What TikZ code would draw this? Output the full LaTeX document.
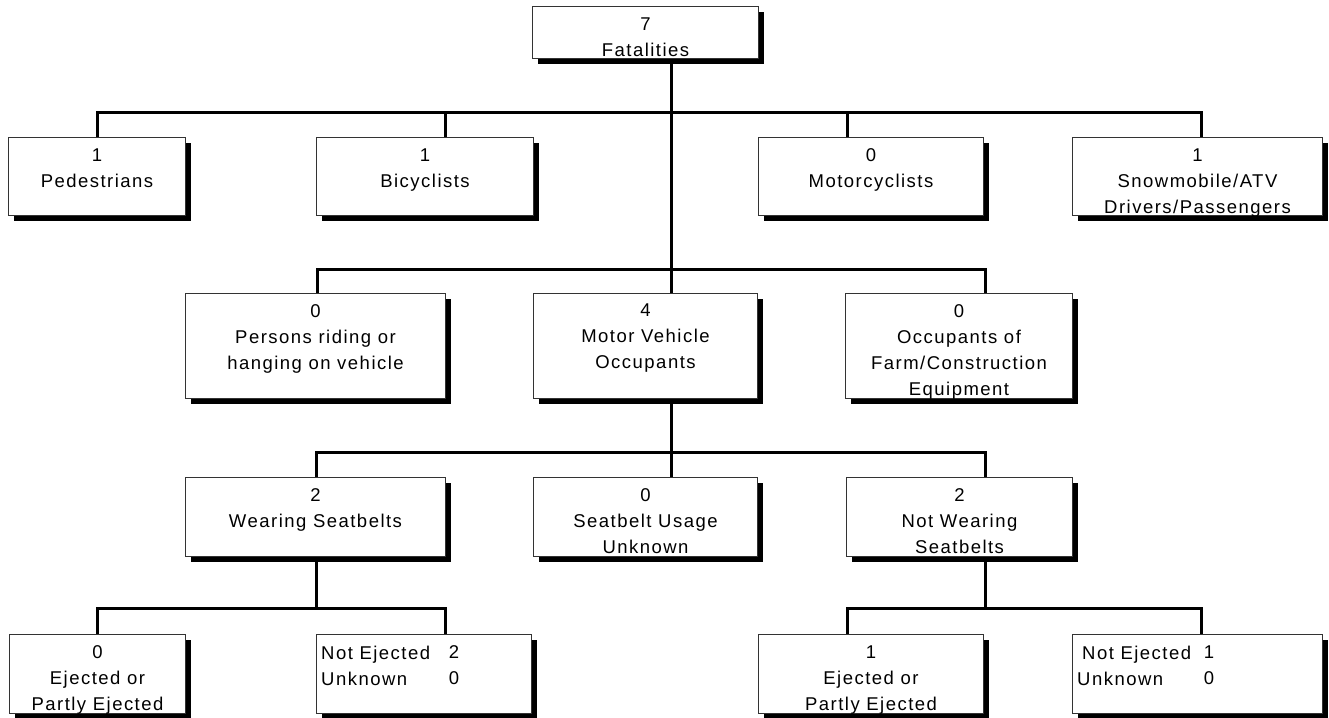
\documentclass[tikz,border=0pt]{standalone}
\usepackage{fontspec}
\setmainfont{Liberation Sans}[LetterSpace=8]
\usetikzlibrary{shadows}
\begin{document}
\begin{tikzpicture}[x=1pt,y=-1pt,
  box/.style={draw=black!80, line width=1pt, fill=white, anchor=north west, inner sep=0pt,
    drop shadow={shadow xshift=5.5pt, shadow yshift=-5.5pt, fill=black, opacity=1}},
  txt/.style={anchor=north, align=center, inner sep=0pt, font=\fontsize{18.5}{26}\selectfont},
  txtl/.style={anchor=north west, align=left, inner sep=0pt, font=\fontsize{18.5}{26}\selectfont},
  conn/.style={line width=3pt, line join=miter}]
\useasboundingbox (0,0) rectangle (1329,717);
% bar levels
\coordinate (bar1) at (0,112);
\coordinate (bar2) at (0,269);
\coordinate (bar3) at (0,452);
\coordinate (bar4) at (0,608);
% connector points
\coordinate (fatout) at (671,58);
\coordinate (pedin) at (97,137);
\coordinate (bicin) at (445,137);
\coordinate (motoin) at (847,137);
\coordinate (snowin) at (1201,137);
\coordinate (ridein) at (317,293);
\coordinate (mvoin) at (671,293);
\coordinate (mvoout) at (671,398);
\coordinate (farmin) at (985,293);
\coordinate (wearin) at (316,477);
\coordinate (wearout) at (316,556);
\coordinate (unkin) at (671,477);
\coordinate (notwin) at (985,477);
\coordinate (notwout) at (985,556);
\coordinate (ej1in) at (97,634);
\coordinate (ne1in) at (445,634);
\coordinate (ej2in) at (847,634);
\coordinate (ne2in) at (1201,634);
% connectors
\draw[conn] (fatout) -- (mvoin);
\draw[conn] (pedin) -- (pedin |- bar1) -- (snowin |- bar1) -- (snowin);
\draw[conn] (bicin) -- (bicin |- bar1);
\draw[conn] (motoin) -- (motoin |- bar1);
\draw[conn] (ridein) -- (ridein |- bar2) -- (farmin |- bar2) -- (farmin);
\draw[conn] (mvoout) -- (unkin);
\draw[conn] (wearin) -- (wearin |- bar3) -- (notwin |- bar3) -- (notwin);
\draw[conn] (ej1in) -- (ej1in |- bar4) -- (ne1in |- bar4) -- (ne1in);
\draw[conn] (wearout) -- (wearout |- bar4);
\draw[conn] (ej2in) -- (ej2in |- bar4) -- (ne2in |- bar4) -- (ne2in);
\draw[conn] (notwout) -- (notwout |- bar4);
% boxes
\node[box, minimum width=226pt, minimum height=52pt] (fat) at (532,6) {};
\node[box, minimum width=177pt, minimum height=78pt] (ped) at (8,137) {};
\node[box, minimum width=217pt, minimum height=78pt] (bic) at (316,137) {};
\node[box, minimum width=225pt, minimum height=78pt] (moto) at (758,137) {};
\node[box, minimum width=250pt, minimum height=78pt] (snow) at (1072,137) {};
\node[box, minimum width=260pt, minimum height=105pt] (ride) at (185,293) {};
\node[box, minimum width=224pt, minimum height=105pt] (mvo) at (533,293) {};
\node[box, minimum width=227pt, minimum height=105pt] (farm) at (845,293) {};
\node[box, minimum width=260pt, minimum height=79pt] (wear) at (185,477) {};
\node[box, minimum width=224pt, minimum height=79pt] (unk) at (533,477) {};
\node[box, minimum width=226pt, minimum height=79pt] (notw) at (846,477) {};
\node[box, minimum width=176pt, minimum height=79pt] (ej1) at (9,634) {};
\node[box, minimum width=215pt, minimum height=79pt] (ne1) at (316,634) {};
\node[box, minimum width=225pt, minimum height=79pt] (ej2) at (758,634) {};
\node[box, minimum width=250pt, minimum height=79pt] (ne2) at (1072,634) {};
% texts
\node[txt] (fatt) at ([yshift=-12pt]fat.north) {7\\Fatalities};
\node[txt] (pedt) at ([yshift=-11.5pt]ped.north) {1\\Pedestrians};
\node[txt] (bict) at ([yshift=-11.5pt]bic.north) {1\\Bicyclists};
\node[txt] (motot) at ([yshift=-11.5pt]moto.north) {0\\Motorcyclists};
\node[txt] (snowt) at ([yshift=-11.5pt]snow.north) {1\\Snowmobile/ATV\\Drivers/Passengers};
\node[txt] (ridet) at ([yshift=-11pt]ride.north) {0\\Persons riding or\\hanging on vehicle};
\node[txt] (mvot) at ([yshift=-11pt]mvo.north) {4\\Motor Vehicle\\Occupants};
\node[txt] (farmt) at ([yshift=-11pt]farm.north) {0\\Occupants of\\Farm/Construction\\Equipment};
\node[txt] (weart) at ([yshift=-11.5pt]wear.north) {2\\Wearing Seatbelts};
\node[txt] (unkt) at ([yshift=-11.5pt]unk.north) {0\\Seatbelt Usage\\Unknown};
\node[txt] (notwt) at ([yshift=-11.5pt]notw.north) {2\\Not Wearing\\Seatbelts};
\node[txt] (ej1t) at ([yshift=-11.5pt]ej1.north) {0\\Ejected or\\Partly Ejected};
\node[txtl] (ne1l) at ([xshift=5pt,yshift=-11.5pt]ne1.north west) {Not Ejected\\Unknown};
\node[txt] (ne1n) at ([xshift=138pt,yshift=-11.5pt]ne1.north west) {2\\0};
\node[txt] (ej2t) at ([yshift=-11.5pt]ej2.north) {1\\Ejected or\\Partly Ejected};
\node[txtl] (ne2l) at ([xshift=5pt,yshift=-11.5pt]ne2.north west) {\hspace{5pt}Not Ejected\\Unknown};
\node[txt] (ne2n) at ([xshift=137pt,yshift=-11.5pt]ne2.north west) {1\\0};
\end{tikzpicture}
\end{document}
